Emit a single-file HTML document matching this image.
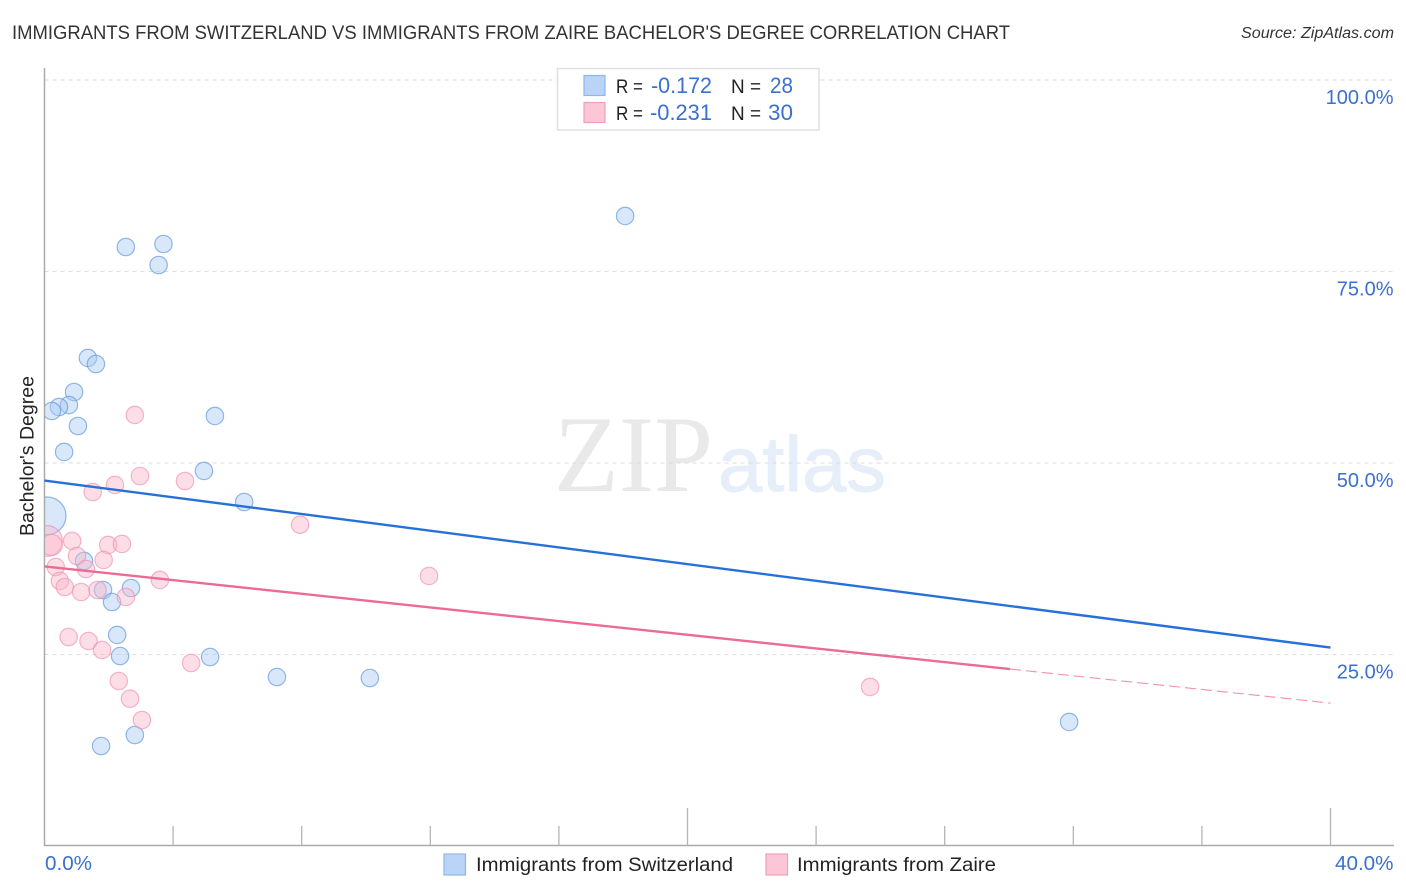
<!DOCTYPE html>
<html lang="en">
<head>
<meta charset="utf-8">
<title>Immigrants from Switzerland vs Immigrants from Zaire Bachelor's Degree Correlation Chart</title>
<style>
html,body{margin:0;padding:0;background:#fff;width:1406px;height:892px;overflow:hidden}
svg{display:block;font-family:"Liberation Sans",sans-serif}
</style>
</head>
<body>
<svg id="chart" xmlns="http://www.w3.org/2000/svg" width="1406" height="892" viewBox="0 0 1406 892">
  <defs><clipPath id="plot-clip"><rect x="45" y="60" width="1349" height="785"/></clipPath></defs>
  <rect width="1406" height="892" fill="#fff"/>
  <text x="12" y="39" font-size="19.5" fill="#333" textLength="998" lengthAdjust="spacingAndGlyphs">IMMIGRANTS FROM SWITZERLAND VS IMMIGRANTS FROM ZAIRE BACHELOR'S DEGREE CORRELATION CHART</text>
  <text x="1241" y="38" font-size="15.5" font-style="italic" fill="#333" textLength="153" lengthAdjust="spacingAndGlyphs">Source: ZipAtlas.com</text>
  <g>
    <text x="554" y="491" font-family="'Liberation Serif',serif" font-size="109" fill="#e9e9e9" textLength="159" lengthAdjust="spacingAndGlyphs">ZIP</text>
    <text x="718" y="491" font-size="78" fill="#e6eefa" stroke="#e6eefa" stroke-width="1" textLength="168" lengthAdjust="spacingAndGlyphs">atlas</text>
  </g>
  <g id="grid"></g>
  <g id="axes"></g>
  <g id="marks" clip-path="url(#plot-clip)"></g>
  <g id="trends"></g>
  <text transform="translate(33.5,456) rotate(-90)" text-anchor="middle" font-size="19" fill="#222" textLength="160" lengthAdjust="spacingAndGlyphs">Bachelor's Degree</text>

  <g>
    <rect x="557.5" y="68.5" width="261.5" height="61.5" fill="#fff" fill-opacity="0.9" stroke="#e0e0e0" stroke-width="1.5"/>
    <rect x="584" y="75.5" width="21" height="20" fill="#b9d4f7" stroke="#8fb6e8" stroke-width="1.2"/>
    <text x="616" y="93" font-size="19.5" fill="#222" textLength="27" lengthAdjust="spacingAndGlyphs">R =</text>
    <text x="651" y="93" font-size="22" fill="#3a70cf" textLength="61" lengthAdjust="spacingAndGlyphs">-0.172</text>
    <text x="731" y="93" font-size="19.5" fill="#222" textLength="30" lengthAdjust="spacingAndGlyphs">N =</text>
    <text x="770" y="93" font-size="22" fill="#3a70cf" textLength="23" lengthAdjust="spacingAndGlyphs">28</text>
    <rect x="584" y="102.5" width="21" height="20" fill="#fcc6d6" stroke="#f0a0b8" stroke-width="1.2"/>
    <text x="616" y="120" font-size="19.5" fill="#222" textLength="27" lengthAdjust="spacingAndGlyphs">R =</text>
    <text x="650" y="120" font-size="22" fill="#3a70cf" textLength="62" lengthAdjust="spacingAndGlyphs">-0.231</text>
    <text x="731" y="120" font-size="19.5" fill="#222" textLength="30" lengthAdjust="spacingAndGlyphs">N =</text>
    <text x="768" y="120" font-size="22" fill="#3a70cf" textLength="25" lengthAdjust="spacingAndGlyphs">30</text>
  </g>

  <g>
    <rect x="444" y="854" width="21.5" height="21" fill="#b9d4f7" stroke="#8fb6e8" stroke-width="1.2"/>
    <text x="476" y="871" font-size="19.5" fill="#222" textLength="257" lengthAdjust="spacingAndGlyphs">Immigrants from Switzerland</text>
    <rect x="766" y="854" width="21.5" height="21" fill="#fcc6d6" stroke="#f0a0b8" stroke-width="1.2"/>
    <text x="797" y="871" font-size="19.5" fill="#222" textLength="199" lengthAdjust="spacingAndGlyphs">Immigrants from Zaire</text>
  </g>
</svg>
<script>
const switzerlandX = [18.06,2.53,3.70,3.55,1.35,1.60,0.92,0.76,0.45,0.23,1.04,0.61,5.30,4.96,6.21,0.08,1.23,1.82,2.69,2.10,2.26,2.35,5.15,7.23,10.12,2.81,1.76,31.87];
const switzerlandY = [82.25,78.20,78.59,75.85,63.71,62.92,59.27,57.57,57.31,56.79,54.83,51.44,56.14,48.96,44.91,43.10,37.21,33.42,33.68,31.85,27.55,24.80,24.67,22.06,21.93,14.49,13.05,16.19];
const switzerlandWeight = [1,1,1,1,1,1,1,1,1,1,1,1,1,1,1,4.7,1,1,1,1,1,1,1,1,1,1,1,1];
const zaireX = [2.81,2.97,2.19,1.50,4.37,7.95,0.08,0.22,0.86,1.01,1.98,2.41,1.84,1.29,0.35,0.48,0.63,1.14,1.65,2.53,3.59,0.75,1.37,1.79,4.56,2.31,2.66,3.03,11.96,25.68];
const zaireY = [56.27,48.30,47.13,46.21,47.65,41.95,39.82,39.30,39.82,37.86,39.30,39.43,37.34,36.16,36.42,34.60,33.81,33.16,33.42,32.51,34.73,27.28,26.76,25.59,23.89,21.54,19.23,16.45,35.25,20.76];
const zaireWeight = [1,1,1,1,1,1,3.1,1.5,1,1,1,1,1,1,1,1,1,1,1,1,1,1,1,1,1,1,1,1,1,1];
const switzerlandTrendX = [0,40];
const switzerlandTrendY = [47.70,25.90];
const zaireTrendX = [0,30.03];
const zaireTrendY = [36.50,23.10];
const zaireProjectionX = [30.03,40];
const zaireProjectionY = [23.10,18.65];
const yTicks = [100,75,50,25];
const yTickLabels = ['100.0%','75.0%','50.0%','25.0%'];
const xTicks = [0,4,8,12,16,20,24,28,32,36,40];
const xMajorTicks = [20,40];
const xEndLabels = ['0.0%','40.0%'];

const NS = 'http://www.w3.org/2000/svg';
function sx(v){ return 44.5 + v * 32.15; }
function sy(v){ return 80 + (100 - v) * 7.66; }
function mk(parent, tag){
  const e = document.createElementNS(NS, tag);
  parent.appendChild(e);
  return e;
}
function set(e, attrs){ for (const k in attrs) e.setAttribute(k, attrs[k]); return e; }

const grid = document.getElementById('grid');
const axes = document.getElementById('axes');
const marks = document.getElementById('marks');
const trends = document.getElementById('trends');

yTicks.forEach(function(t, i){
  const g = mk(grid, 'line');
  
  
  set(g, {x1:44.5, x2:1394, y1:sy(t), y2:sy(t), stroke:'#dcdcdc', 'stroke-width':1, 'stroke-dasharray':'4 4'});
  const l = mk(axes, 'text');
  
  
  set(l, {x:1393.5, y:sy(t)+24, 'text-anchor':'end', 'font-size':20, fill:'#3a70cf'});
  l.textContent = yTickLabels[i];
});

const yAxis = mk(axes, 'line');


set(yAxis, {x1:44.5, x2:44.5, y1:68, y2:846, stroke:'#aaa', 'stroke-width':1.5});

const xAxis = mk(axes, 'line');


set(xAxis, {x1:44, x2:1394, y1:845.5, y2:845.5, stroke:'#aaa', 'stroke-width':1.5});

xTicks.forEach(function(t){
  if (t === 0) return;
  const k = mk(axes, 'line');
  
  
  set(k, {x1:sx(t), x2:sx(t), y1:xMajorTicks.indexOf(t) >= 0 ? 808 : 826, y2:845.5, stroke:'#b5b5b5', 'stroke-width':1.3});
});

const x0Label = mk(axes, 'text');


set(x0Label, {x:45, y:870, 'font-size':20, fill:'#3a70cf', textLength:47, lengthAdjust:'spacingAndGlyphs'});
x0Label.textContent = xEndLabels[0];

const x1Label = mk(axes, 'text');


set(x1Label, {x:1335, y:870, 'font-size':20, fill:'#3a70cf', textLength:58.5, lengthAdjust:'spacingAndGlyphs'});
x1Label.textContent = xEndLabels[1];

function radius(w){ return 8.7 * Math.sqrt(w); }

switzerlandX.forEach(function(v, i){
  const c = mk(marks, 'circle');
  
  
  set(c, {cx:sx(v), cy:sy(switzerlandY[i]), r:radius(switzerlandWeight[i]), fill:'#a9c9f2', 'fill-opacity':0.45, stroke:'#5b93dc', 'stroke-opacity':0.65, 'stroke-width':1.2});
});
zaireX.forEach(function(v, i){
  const c = mk(marks, 'circle');
  
  
  set(c, {cx:sx(v), cy:sy(zaireY[i]), r:radius(zaireWeight[i]), fill:'#fab6ca', 'fill-opacity':0.45, stroke:'#ee8fae', 'stroke-opacity':0.65, 'stroke-width':1.2});
});

const blueTrend = mk(trends, 'line');


set(blueTrend, {x1:sx(switzerlandTrendX[0]), y1:sy(switzerlandTrendY[0]), x2:sx(switzerlandTrendX[1]), y2:sy(switzerlandTrendY[1]), stroke:'#2670d8', 'stroke-width':2.4});

const pinkTrend = mk(trends, 'line');


set(pinkTrend, {x1:sx(zaireTrendX[0]), y1:sy(zaireTrendY[0]), x2:sx(zaireTrendX[1]), y2:sy(zaireTrendY[1]), stroke:'#ec6a97', 'stroke-width':2.4});

const pinkProjection = mk(trends, 'line');


set(pinkProjection, {x1:sx(zaireProjectionX[0]), y1:sy(zaireProjectionY[0]), x2:sx(zaireProjectionX[1]), y2:sy(zaireProjectionY[1]), stroke:'#ec6a97', 'stroke-opacity':0.75, 'stroke-width':1.1, 'stroke-dasharray':'11 5'});
</script>
</body>
</html>
